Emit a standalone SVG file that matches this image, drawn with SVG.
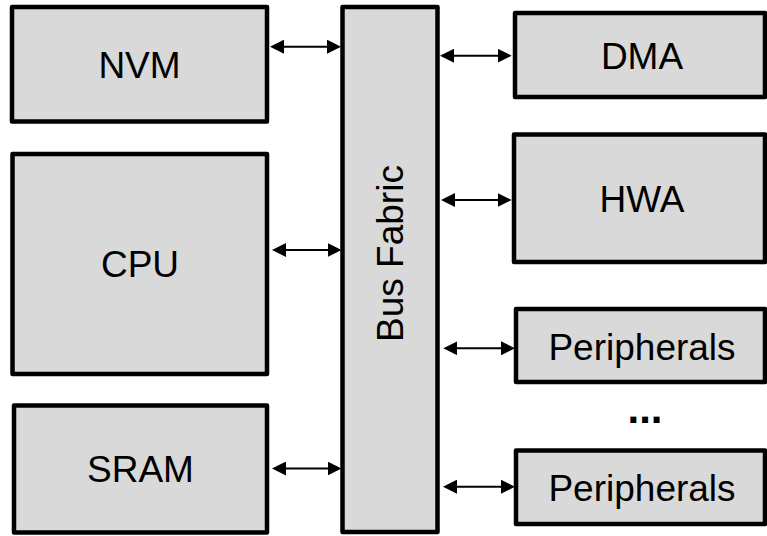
<svg xmlns="http://www.w3.org/2000/svg" width="767" height="536" viewBox="0 0 767 536">
<style>
.box{fill:#d9d9d9;stroke:#000;stroke-width:4.5;stroke-linejoin:round}
.lbl{font-family:"Liberation Sans",Arial,sans-serif;font-size:37px;fill:#000;text-anchor:middle}
.con{stroke:#000;stroke-width:2;fill:none;marker-start:url(#ah);marker-end:url(#ah)}
</style>
<defs>
<marker id="ah" viewBox="0 0 14 14" refX="4" refY="7" markerWidth="14" markerHeight="14" markerUnits="userSpaceOnUse" orient="auto-start-reverse">
<path d="M0,0 L14,7 L0,14 z" fill="#000"/>
</marker>
</defs>
<rect width="767" height="536" fill="#fff"/>
<g id="nvm"><rect class="box" x="12" y="7" width="255" height="114.5"/><text class="lbl" x="139.5" y="77.5">NVM</text></g>
<g id="cpu"><rect class="box" x="12.5" y="154" width="254.5" height="220"/><text class="lbl" x="140" y="277">CPU</text></g>
<g id="sram"><rect class="box" x="14" y="405.5" width="253" height="127"/><text class="lbl" x="140.5" y="482">SRAM</text></g>
<g id="bus"><rect class="box" x="342.5" y="7" width="95" height="525"/><text class="lbl" transform="translate(403,253.5) rotate(-90)">Bus Fabric</text></g>
<g id="dma"><rect class="box" x="515" y="13" width="250" height="84"/><text class="lbl" x="642" y="69">DMA</text></g>
<g id="hwa"><rect class="box" x="514" y="134.5" width="251" height="127.5"/><text class="lbl" x="642" y="211.5">HWA</text></g>
<g id="periph1"><rect class="box" x="516" y="309" width="249" height="73"/><text class="lbl" x="642" y="360">Peripherals</text></g>
<g id="periph2"><rect class="box" x="516" y="450.5" width="249" height="73.5"/><text class="lbl" x="642" y="500.5">Peripherals</text></g>
<text id="dots" x="645" y="423" font-family="Liberation Sans,Arial,sans-serif" font-size="42" font-weight="bold" text-anchor="middle">...</text>
<g id="connectors">
<line class="con" x1="280" y1="46.7" x2="331" y2="46.7"/>
<line class="con" x1="282" y1="250" x2="331.5" y2="250"/>
<line class="con" x1="282" y1="468.5" x2="331.5" y2="468.5"/>
<line class="con" x1="450" y1="55.7" x2="501.7" y2="55.7"/>
<line class="con" x1="451" y1="200" x2="501.7" y2="200"/>
<line class="con" x1="453.3" y1="348.3" x2="505" y2="348.3"/>
<line class="con" x1="453" y1="486.7" x2="505" y2="486.7"/>
</g>
</svg>
